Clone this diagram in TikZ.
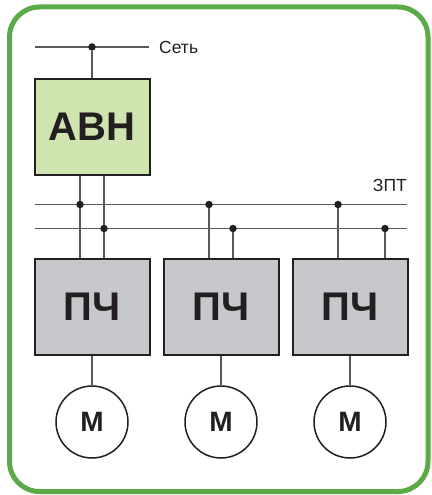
\documentclass[tikz,border=0pt]{standalone}
\usepackage{fontspec}
\setmainfont{Liberation Sans}
\usetikzlibrary{backgrounds}
\definecolor{framegreen}{HTML}{5AAB47}
\definecolor{avnfill}{HTML}{CFE4AE}
\definecolor{pchfill}{HTML}{C6C8CC}
\definecolor{inkdark}{HTML}{231F20}
\definecolor{wiregray}{HTML}{58595B}
\tikzset{
  blockavn/.style={draw=inkdark,line width=2pt,fill=avnfill,minimum width=115pt,minimum height=96pt,inner sep=0pt,font=\fontsize{40}{40}\selectfont\bfseries,text=inkdark},
  blockpch/.style={draw=inkdark,line width=2pt,fill=pchfill,minimum width=115pt,minimum height=96pt,inner sep=0pt,font=\fontsize{40}{40}\selectfont\bfseries,text=inkdark},
  motor/.style={circle,draw=inkdark,line width=1.5pt,fill=white,minimum size=72pt,inner sep=0pt,font=\fontsize{28}{28}\selectfont\bfseries,text=inkdark},
  junction/.style={circle,fill=inkdark,minimum size=7.5pt,inner sep=0pt},
  wire/.style={draw=wiregray,line width=1.2pt},
  label/.style={inner sep=0pt,font=\fontsize{17.5}{17.5}\selectfont,text=inkdark}
}
\begin{document}
\begin{tikzpicture}[x=1pt,y=-1pt]
\useasboundingbox (0,0) rectangle (431,495);
\draw[framegreen,line width=5pt,rounded corners=30pt] (9.5,7) rectangle (428,491.5);
\node[blockavn] (avn) at (92,126.5) {АВН};
\node[blockpch] (pch1) at (92,306.5) {ПЧ};
\node[blockpch] (pch2) at (221,306.5) {ПЧ};
\node[blockpch] (pch3) at (350,306.5) {ПЧ};
\node[motor] (m1) at (92,422) {М};
\node[motor] (m2) at (221,422) {М};
\node[motor] (m3) at (350,422) {М};
\coordinate (netl) at (35,47);
\coordinate (netr) at (149,47);
\coordinate (busal) at (35,204.5);
\coordinate (busar) at (407,204.5);
\coordinate (busbl) at (35,228.5);
\coordinate (busbr) at (407,228.5);
\node[junction] (n0) at (92,47) {};
\node[junction] (a1) at (80,204.5) {};
\node[junction] (b1) at (104,228.5) {};
\node[junction] (a2) at (209,204.5) {};
\node[junction] (b2) at (233,228.5) {};
\node[junction] (a3) at (338,204.5) {};
\node[junction] (b3) at (385,228.5) {};
\node[label,anchor=west] (net) at (159,47.5) {Сеть};
\node[label,anchor=east] (dcbus) at (407,185) {ЗПТ};
\begin{scope}[on background layer]
\draw[wire] (netl) -- (netr);
\draw[wire] (busal) -- (busar);
\draw[wire] (busbl) -- (busbr);
\draw[wire] (n0) -- (avn.north);
\draw[wire] (avn.south -| a1) -- (pch1.north -| a1);
\draw[wire] (avn.south -| b1) -- (pch1.north -| b1);
\draw[wire] (a2) -- (pch2.north -| a2);
\draw[wire] (b2) -- (pch2.north -| b2);
\draw[wire] (a3) -- (pch3.north -| a3);
\draw[wire] (b3) -- (pch3.north -| b3);
\draw[wire] (pch1) -- (m1);
\draw[wire] (pch2) -- (m2);
\draw[wire] (pch3) -- (m3);
\end{scope}
\end{tikzpicture}
\end{document}
